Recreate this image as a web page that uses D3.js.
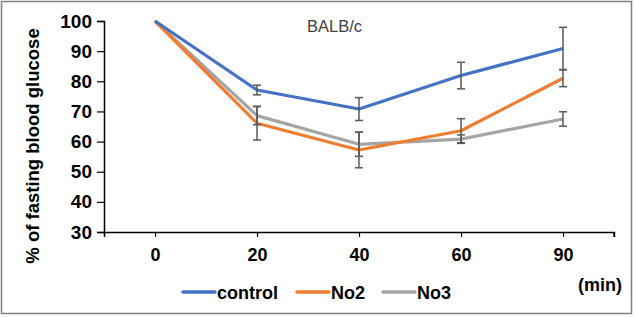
<!DOCTYPE html>
<html>
<head>
<meta charset="utf-8">
<script src="https://cdn.jsdelivr.net/npm/d3@7"></script>
<style>
  html, body { margin: 0; padding: 0; background: #fff; }
  text { font-family: Arial, "Liberation Sans", sans-serif; }
</style>
</head>
<body>
<div id="chart"></div>
<script>
// time points (min)
var times = ["0", "20", "40", "60", "90"];
var yTicks = [30, 40, 50, 60, 70, 80, 90, 100];

// % of fasting blood glucose, mean and error
var control = [100, 77.1, 70.8, 81.9, 90.9];
var controlErr = [0, 1.6, 3.8, 4.4, 7.0];
var no2 = [100, 66.1, 57.2, 63.6, 81.0];
var no2Err = [0, 5.6, 5.9, 4.0, 2.8];
var no3 = [100, 68.6, 59.1, 60.8, 67.5];
var no3Err = [0, 3.0, 4.0, 1.4, 2.4];

var seriesNames = ["control", "No2", "No3"];
var colors = ["#4472C4", "#ED7D31", "#A5A5A5"];

var W = 636, H = 317;
var plot = {left: 104, right: 614, top: 21, bottom: 232};

var svg = d3.select("#chart").append("svg")
  .attr("width", W)
  .attr("height", H);

// outer frame
svg.append("rect")
  .attr("x", 1.5).attr("y", 1.5)
  .attr("width", 630).attr("height", 312)
  .attr("fill", "#fff")
  .attr("stroke", "#7f7f7f")
  .attr("stroke-width", 1.5);

var x = d3.scalePoint()
  .domain(times)
  .range([plot.left, plot.right])
  .padding(0.5);

var y = d3.scaleLinear()
  .domain([30, 100])
  .range([plot.bottom, plot.top]);

// y axis
var yAxis = d3.axisLeft(y).tickValues(yTicks).tickSize(7).tickPadding(5);
var gy = svg.append("g")
  .attr("transform", "translate(" + plot.left + ",0)")
  .call(yAxis);
gy.select(".domain").attr("stroke", "#000").attr("stroke-width", 1.5);
gy.selectAll(".tick line").attr("stroke", "#000").attr("stroke-width", 1.2);
gy.selectAll(".tick text")
  .attr("font-size", "19px")
  .attr("font-weight", "bold")
  .attr("fill", "#000")
  .style("font-family", "Arial, 'Liberation Sans', sans-serif");

// x axis
var xAxis = d3.axisBottom(x).tickSizeOuter(0).tickSize(5).tickPadding(11);
var gx = svg.append("g")
  .attr("transform", "translate(0," + plot.bottom + ")")
  .call(xAxis);
gx.select(".domain").attr("stroke", "#000").attr("stroke-width", 1.5);
gx.selectAll(".tick line").attr("stroke", "#000").attr("stroke-width", 1.2);
gx.selectAll(".tick text")
  .attr("font-size", "18px")
  .attr("font-weight", "bold")
  .attr("fill", "#000")
  .style("font-family", "Arial, 'Liberation Sans', sans-serif");
// end tick at right of axis
gx.append("line")
  .attr("x1", plot.right).attr("x2", plot.right)
  .attr("y1", 0).attr("y2", 5)
  .attr("stroke", "#000").attr("stroke-width", 1.2);

// y axis title
svg.append("text")
  .attr("transform", "translate(39," + 146 + ") rotate(-90)")
  .attr("text-anchor", "middle")
  .attr("font-size", "18.5px")
  .attr("font-weight", "bold")
  .text("% of fasting blood glucose");

// title
svg.append("text")
  .attr("x", 307).attr("y", 32)
  .attr("font-size", "16.5px")
  .attr("fill", "#404040")
  .text("BALB/c");

// (min)
svg.append("text")
  .attr("x", 622).attr("y", 291)
  .attr("text-anchor", "end")
  .attr("font-size", "18px")
  .attr("font-weight", "bold")
  .text("(min)");

var allSeries = [
  {name: seriesNames[0], values: control, err: controlErr, color: colors[0]},
  {name: seriesNames[1], values: no2, err: no2Err, color: colors[1]},
  {name: seriesNames[2], values: no3, err: no3Err, color: colors[2]}
];

var line = d3.line()
  .x(function(d, i) { return x(times[i]); })
  .y(function(d) { return y(d); });

// lines drawn in reverse order so control is on top
allSeries.slice().reverse().forEach(function(s) {
  svg.append("path")
    .datum(s.values)
    .attr("fill", "none")
    .attr("stroke", s.color)
    .attr("stroke-width", 3.2)
    .attr("stroke-linejoin", "round")
    .attr("d", line);
});

// error bars
allSeries.forEach(function(s) {
  var g = svg.append("g").attr("stroke", "#595959").attr("stroke-width", 1.5);
  s.values.forEach(function(v, i) {
    if (!s.err[i]) return;
    var cx = x(times[i]);
    var y1 = y(v + s.err[i]), y2 = y(v - s.err[i]);
    g.append("line").attr("x1", cx).attr("x2", cx).attr("y1", y1).attr("y2", y2);
    g.append("line").attr("x1", cx - 4).attr("x2", cx + 4).attr("y1", y1).attr("y2", y1);
    g.append("line").attr("x1", cx - 4).attr("x2", cx + 4).attr("y1", y2).attr("y2", y2);
  });
});

// legend
var legendX = [183, 297, 383];
var legend = svg.append("g");
allSeries.forEach(function(s, i) {
  legend.append("line")
    .attr("x1", legendX[i]).attr("x2", legendX[i] + 32)
    .attr("y1", 292).attr("y2", 292)
    .attr("stroke", s.color)
    .attr("stroke-width", 3.5)
    .attr("stroke-linecap", "round");
  legend.append("text")
    .attr("x", legendX[i] + 34)
    .attr("y", 298.5)
    .attr("font-size", "18px")
    .attr("font-weight", "bold")
    .text(s.name);
});
</script>
</body>
</html>
